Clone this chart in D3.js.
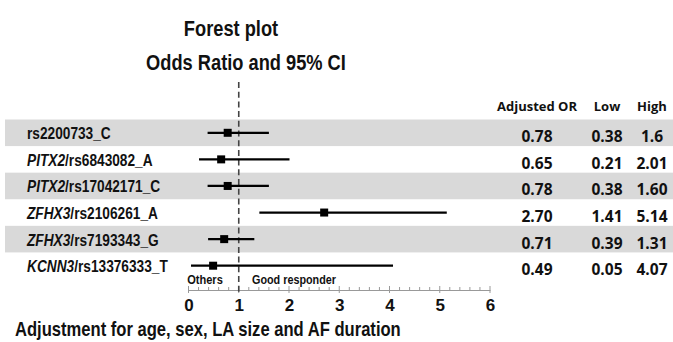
<!DOCTYPE html>
<html>
<head>
<meta charset="utf-8">
<script src="https://cdn.jsdelivr.net/npm/d3@7"></script>
<style>
  body { margin: 0; background: #fff; }
  svg { display: block; }
</style>
</head>
<body>
<script>
'use strict';

const width = 673;
const height = 342;

const snps = ['rs2200733_C', 'rs6843082_A', 'rs17042171_C', 'rs2106261_A', 'rs7193343_G', 'rs13376333_T'];
const genes = ['', 'PITX2', 'PITX2', 'ZFHX3', 'ZFHX3', 'KCNN3'];
const oddsRatio = [0.78, 0.65, 0.78, 2.70, 0.71, 0.49];
const lowCI = [0.38, 0.21, 0.38, 1.41, 0.39, 0.05];
const highCI = [1.6, 2.01, 1.60, 5.14, 1.31, 4.07];
// numbers as printed in the table
const orText = ['0.78', '0.65', '0.78', '2.70', '0.71', '0.49'];
const lowText = ['0.38', '0.21', '0.38', '1.41', '0.39', '0.05'];
const highText = ['1.6', '2.01', '1.60', '5.14', '1.31', '4.07'];
const xTicks = [0, 1, 2, 3, 4, 5, 6];

const rows = snps.map((s, i) => ({
  snp: s, gene: genes[i], or: oddsRatio[i], low: lowCI[i], high: highCI[i],
  orT: orText[i], lowT: lowText[i], highT: highText[i]
}));

const svg = d3.select('body')
  .append('svg')
  .attr('width', width)
  .attr('height', height);

const xScale = d3.scaleLinear()
  .domain([0, 6])
  .range([188.5, 490]);

const yScale = d3.scaleBand()
  .domain(snps)
  .range([119.5, 279]);

const labelFont = '"Liberation Sans", Arial, sans-serif';
const numFont = '"Open Sans", "Noto Sans", sans-serif';

// the reference uses a narrow face; squeeze Liberation Sans horizontally
function squeeze(sel, f) {
  sel.each(function() {
    const t = d3.select(this);
    const x = +t.attr('x') || 0;
    const y = +t.attr('y') || 0;
    t.attr('x', 0).attr('y', 0)
      .attr('transform', `translate(${x},${y}) scale(${f},1)`);
  });
}

// row shading
svg.selectAll('rect.band')
  .data(rows.filter((d, i) => i % 2 === 0))
  .enter()
  .append('rect')
  .attr('class', 'band')
  .attr('x', 5)
  .attr('y', (d) => yScale(d.snp))
  .attr('width', width - 5)
  .attr('height', yScale.bandwidth())
  .attr('fill', '#d9d9d9');

// titles
svg.append('text')
  .attr('x', 231)
  .attr('y', 36)
  .attr('text-anchor', 'middle')
  .attr('font-family', labelFont)
  .attr('font-weight', 'bold')
  .attr('font-size', '22px')
  .attr('fill', '#111')
  .text('Forest plot')
  .call(squeeze, 0.83);

svg.append('text')
  .attr('x', 246)
  .attr('y', 70)
  .attr('text-anchor', 'middle')
  .attr('font-family', labelFont)
  .attr('font-weight', 'bold')
  .attr('font-size', '22px')
  .attr('fill', '#111')
  .text('Odds Ratio and 95% CI')
  .call(squeeze, 0.83);

// axis
const xAxis = d3.axisBottom(xScale)
  .tickValues(xTicks)
  .tickFormat(d3.format('d'))
  .tickSize(0)
  .tickPadding(9);

const axisG = svg.append('g')
  .attr('transform', 'translate(0, 290)')
  .call(xAxis);

axisG.select('.domain')
  .attr('stroke', '#999')
  .attr('stroke-width', 1.2);

axisG.selectAll('text')
  .attr('font-family', labelFont)
  .attr('font-weight', 'bold')
  .attr('font-size', '17px')
  .attr('fill', '#111');

// minor + major ticks drawn above the baseline
const minor = d3.range(0, 30.5, 1).map((d) => d / 5);
axisG.selectAll('line.minor')
  .data(minor)
  .enter()
  .append('line')
  .attr('class', 'minor')
  .attr('x1', (d) => xScale(d))
  .attr('x2', (d) => xScale(d))
  .attr('y1', (d) => Math.abs(d - Math.round(d)) < 1e-6 ? -4 : -3)
  .attr('y2', (d) => Math.abs(d - Math.round(d)) < 1e-6 ? 3 : 0)
  .attr('stroke', '#999')
  .attr('stroke-width', 1);

// reference line at OR = 1
svg.append('line')
  .attr('x1', xScale(1))
  .attr('x2', xScale(1))
  .attr('y1', 82)
  .attr('y2', 292)
  .attr('stroke', '#444')
  .attr('stroke-width', 1.6)
  .attr('stroke-dasharray', '6,3.7');

// confidence intervals
svg.selectAll('line.ci')
  .data(rows)
  .enter()
  .append('line')
  .attr('class', 'ci')
  .attr('x1', (d) => xScale(d.low))
  .attr('x2', (d) => xScale(d.high))
  .attr('y1', (d) => yScale(d.snp) + yScale.bandwidth() / 2)
  .attr('y2', (d) => yScale(d.snp) + yScale.bandwidth() / 2)
  .attr('stroke', '#000')
  .attr('stroke-width', 2.2);

// point estimates
svg.selectAll('rect.pt')
  .data(rows)
  .enter()
  .append('rect')
  .attr('class', 'pt')
  .attr('x', (d) => xScale(d.or) - 4)
  .attr('y', (d) => yScale(d.snp) + yScale.bandwidth() / 2 - 4)
  .attr('width', 8)
  .attr('height', 8)
  .attr('fill', '#000');

// row labels (gene in italics)
const lbl = svg.selectAll('text.label')
  .data(rows)
  .enter()
  .append('text')
  .attr('class', 'label')
  .attr('x', 27)
  .attr('y', (d) => yScale(d.snp) + yScale.bandwidth() / 2 + 6.5)
  .attr('font-family', labelFont)
  .attr('font-weight', 'bold')
  .attr('font-size', '16.5px')
  .attr('fill', '#111');

lbl.filter((d) => d.gene !== '')
  .append('tspan')
  .attr('font-style', 'italic')
  .text((d) => d.gene);
lbl.append('tspan')
  .text((d) => (d.gene !== '' ? '/' : '') + d.snp);
lbl.call(squeeze, 0.83);

// table columns
const cols = [
  { key: 'orT', title: 'Adjusted OR', x: 537 },
  { key: 'lowT', title: 'Low', x: 607 },
  { key: 'highT', title: 'High', x: 652 }
];

cols.forEach((c) => {
  svg.append('text')
    .attr('x', c.x)
    .attr('y', 111)
    .attr('text-anchor', 'middle')
    .attr('font-family', numFont)
    .attr('font-weight', 'bold')
    .attr('font-size', '13px')
    .attr('fill', '#111')
    .text(c.title);

  svg.selectAll('text.col-' + c.key)
    .data(rows)
    .enter()
    .append('text')
    .attr('class', 'col-' + c.key)
    .attr('x', c.x)
    .attr('y', (d) => yScale(d.snp) + yScale.bandwidth() / 2 + 9.5)
    .attr('text-anchor', 'middle')
    .attr('font-family', numFont)
    .attr('font-weight', 'bold')
    .attr('font-size', '15.5px')
    .attr('fill', '#111')
    .text((d) => d[c.key]);
});

// direction labels
svg.append('text')
  .attr('x', 205)
  .attr('y', 284)
  .attr('text-anchor', 'middle')
  .attr('font-family', labelFont)
  .attr('font-weight', 'bold')
  .attr('font-size', '13.5px')
  .attr('fill', '#111')
  .text('Others')
  .call(squeeze, 0.82);

svg.append('text')
  .attr('x', 252)
  .attr('y', 284)
  .attr('font-family', labelFont)
  .attr('font-weight', 'bold')
  .attr('font-size', '13.5px')
  .attr('fill', '#111')
  .text('Good responder')
  .call(squeeze, 0.8);

// footnote
svg.append('text')
  .attr('x', 15)
  .attr('y', 336)
  .attr('font-family', labelFont)
  .attr('font-weight', 'bold')
  .attr('font-size', '20px')
  .attr('fill', '#111')
  .text('Adjustment for age, sex, LA size and AF duration')
  .call(squeeze, 0.83);
</script>
</body>
</html>
